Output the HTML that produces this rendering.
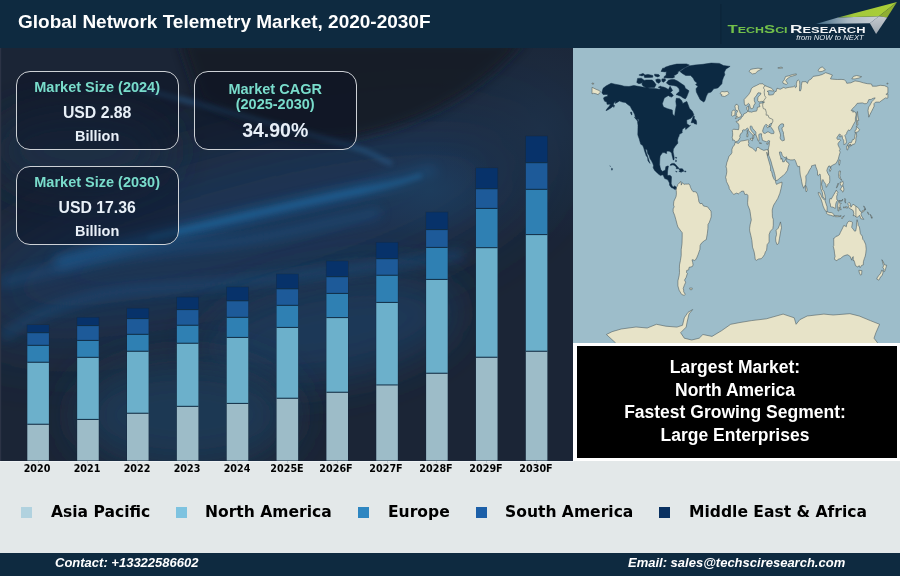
<!DOCTYPE html>
<html><head><meta charset="utf-8">
<style>
*{margin:0;padding:0;box-sizing:border-box}
html,body{width:900px;height:576px;overflow:hidden;background:#e3e8e9}
body{position:relative;font-family:"Liberation Sans",Arial,sans-serif}
.abs{position:absolute}
#title,.box div,#blk,#foot span,.lg,.xl,#hdr svg{will-change:transform}
#hdr{left:0;top:0;width:900px;height:48px;background:#0e2a40}
#title{left:18px;top:10.8px;color:#fff;font-weight:bold;font-size:19px;white-space:nowrap}
#left{left:0;top:48px;width:573px;height:413px;background:#1b2232;overflow:hidden}
#map{left:573px;top:48px;width:327px;height:295px;background:#9dbdca;overflow:hidden}
#frame{left:573px;top:343px;width:327px;height:118px;background:#fff}
#blk{left:577px;top:346px;width:320px;height:112px;background:#000;color:#fff;font-weight:bold;font-size:17.5px;text-align:center;line-height:22.7px;padding-top:10px;padding-right:4px;white-space:nowrap}
.box{position:absolute;border:1.8px solid #cdd1d6;border-radius:14px;background:rgba(10,18,35,0.45);text-align:center;font-weight:bold;white-space:nowrap}
.box div{position:absolute;left:0;right:0;text-align:center}
.t1{color:#79dccb;font-size:14.5px}
.t2{color:#e8eff7;font-size:15.8px}
#foot{left:0;top:553px;width:900px;height:23px;background:#0e2a40;color:#fff;font-weight:bold;font-style:italic;font-size:13px;white-space:nowrap}
.lg{position:absolute;top:502.5px;font-family:"DejaVu Sans",sans-serif;font-weight:bold;font-size:15.55px;color:#000;white-space:nowrap}
.sq{position:absolute;top:507px;width:11px;height:11px}
.xl{position:absolute;top:462.5px;font-family:"DejaVu Sans",sans-serif;font-weight:bold;font-size:9.6px;color:#000;width:50px;text-align:center}
</style></head><body>
<div id="hdr" class="abs"><svg width="900" height="48" style="position:absolute;left:0;top:0">
<defs>
<linearGradient id="gband" x1="816" y1="0" x2="880" y2="0" gradientUnits="userSpaceOnUse"><stop offset="0" stop-color="#3f6a85"/><stop offset="0.5" stop-color="#a9b8c2"/><stop offset="1" stop-color="#cdd1d6"/></linearGradient>
<linearGradient id="ggreen" x1="836" y1="0" x2="880" y2="0" gradientUnits="userSpaceOnUse"><stop offset="0" stop-color="#6f9a40"/><stop offset="0.4" stop-color="#a3c93b"/><stop offset="1" stop-color="#a8cd38"/></linearGradient>
<linearGradient id="gv" x1="0" y1="17" x2="0" y2="34" gradientUnits="userSpaceOnUse"><stop offset="0" stop-color="#c3c8ce"/><stop offset="1" stop-color="#9ea7b0"/></linearGradient>
</defs>
<rect x="720.5" y="4" width="0.8" height="40" fill="#0a2135"/>
<polygon points="816,24 838,17.4 878.9,16.3 869.9,23.3" fill="url(#gband)"/>
<polygon points="838,17.4 897,2.1 878.9,16.3" fill="url(#ggreen)"/>
<polygon points="878.9,16.3 897,2.1 887.2,17.4" fill="#8fae33"/>
<polygon points="869.9,23.3 878.9,16.3 887.2,17.4 876.1,34" fill="url(#gv)"/>
<text x="727.6" y="33" font-family="Liberation Sans, Arial, sans-serif" font-weight="bold" fill="#72c04a" textLength="60" lengthAdjust="spacingAndGlyphs"><tspan font-size="11.2">T</tspan><tspan font-size="8.4">ECH</tspan><tspan font-size="11.2">S</tspan><tspan font-size="8.4">CI</tspan></text>
<text x="790" y="33" font-family="Liberation Sans, Arial, sans-serif" font-weight="bold" fill="#f4f6f8" textLength="75.5" lengthAdjust="spacingAndGlyphs"><tspan font-size="11.2">R</tspan><tspan font-size="8.4">ESEARCH</tspan></text>
<text x="796.3" y="40.2" font-family="Liberation Sans, Arial, sans-serif" font-style="italic" font-size="7" fill="#e6ecf0" textLength="67.5" lengthAdjust="spacingAndGlyphs">from NOW to NEXT</text>
</svg>
</div>
<div id="title" class="abs">Global Network Telemetry Market, 2020-2030F</div>

<div id="left" class="abs">
<svg width="573" height="413" style="position:absolute;left:0;top:0">
<defs>
<filter id="b35" x="-50%" y="-50%" width="200%" height="200%"><feGaussianBlur stdDeviation="35"/></filter>
<filter id="b20" x="-50%" y="-50%" width="200%" height="200%"><feGaussianBlur stdDeviation="20"/></filter>
<filter id="b12" x="-50%" y="-50%" width="200%" height="200%"><feGaussianBlur stdDeviation="12"/></filter>
<filter id="b6" x="-50%" y="-50%" width="200%" height="200%"><feGaussianBlur stdDeviation="6"/></filter>
<filter id="b3" x="-50%" y="-50%" width="200%" height="200%"><feGaussianBlur stdDeviation="2.5"/></filter>
<radialGradient id="rg2"><stop offset="0" stop-color="#1d3c5c"/><stop offset="1" stop-color="#1d3c5c" stop-opacity="0"/></radialGradient>
<radialGradient id="rg1"><stop offset="0" stop-color="#1d3048"/><stop offset="1" stop-color="#1d3048" stop-opacity="0"/></radialGradient>
</defs>
<rect width="573" height="413" fill="#1b2536"/>
<g transform="translate(0,-48)">
<ellipse cx="250" cy="230" rx="300" ry="80" fill="#1b3555" transform="rotate(-15 250 230)" filter="url(#b35)"/>
<ellipse cx="330" cy="330" rx="130" ry="50" fill="#1c3757" transform="rotate(-10 330 330)" filter="url(#b20)"/>
<ellipse cx="80" cy="150" rx="90" ry="40" fill="#1b2d45" filter="url(#b20)"/>
<ellipse cx="185" cy="415" rx="110" ry="55" fill="#1a3753" filter="url(#b20)"/>
<ellipse cx="540" cy="130" rx="110" ry="110" fill="url(#rg1)"/>
<path d="M180,40 L525,40 C490,80 440,120 354,138 C300,146 250,128 200,100 Z" fill="#191b28" opacity="0.9" filter="url(#b6)"/>
<path d="M60,262 C150,238 250,215 350,193 S410,178 430,173" stroke="#1b5f96" stroke-width="12" stroke-linecap="round" fill="none" opacity="0.75" filter="url(#b6)"/>
<ellipse cx="430" cy="190" rx="70" ry="45" fill="url(#rg2)"/>
<path d="M150,238 C220,222 280,207 350,193 S400,181 420,176" stroke="#2470a8" stroke-width="4" stroke-linecap="round" fill="none" opacity="0.5" filter="url(#b3)"/>
<path d="M0,283 C60,268 120,252 200,245 S300,228 380,212" stroke="#1a5588" stroke-width="9" fill="none" opacity="0.55" filter="url(#b6)"/>
<path d="M130,86 C200,104 280,126 330,140 S370,155 390,163" stroke="#2b6494" stroke-width="5" stroke-linecap="round" fill="none" opacity="0.5" filter="url(#b3)"/>
<path d="M5,335 C40,310 90,292 150,289 S300,277 460,255" stroke="#1d5283" stroke-width="8" stroke-linecap="round" fill="none" opacity="0.6" filter="url(#b6)"/>
</g>
<rect x="0" y="0" width="1.2" height="413" fill="#2c3345"/>
</svg>
<svg width="573" height="413" style="position:absolute;left:0;top:0"><rect x="26.80" y="276.50" width="22.6" height="136.00" fill="#10263c" opacity="0.6"/><rect x="27.30" y="277.00" width="21.6" height="7.70" fill="#07326a"/><rect x="27.30" y="284.70" width="21.6" height="12.70" fill="#1d5a99"/><rect x="27.30" y="297.40" width="21.6" height="16.90" fill="#2f80b3"/><rect x="27.30" y="314.30" width="21.6" height="62.00" fill="#6cb0cb"/><rect x="27.30" y="376.30" width="21.6" height="36.20" fill="#9dbcc8"/><rect x="27.30" y="284.10" width="21.6" height="1.1" fill="#0f2c45" opacity="0.9"/><rect x="27.30" y="296.80" width="21.6" height="1.1" fill="#0f2c45" opacity="0.9"/><rect x="27.30" y="313.70" width="21.6" height="1.1" fill="#0f2c45" opacity="0.9"/><rect x="27.30" y="375.70" width="21.6" height="1.1" fill="#0f2c45" opacity="0.9"/><rect x="76.65" y="269.00" width="22.6" height="143.50" fill="#10263c" opacity="0.6"/><rect x="77.15" y="269.50" width="21.6" height="8.10" fill="#07326a"/><rect x="77.15" y="277.60" width="21.6" height="14.90" fill="#1d5a99"/><rect x="77.15" y="292.50" width="21.6" height="16.90" fill="#2f80b3"/><rect x="77.15" y="309.40" width="21.6" height="62.10" fill="#6cb0cb"/><rect x="77.15" y="371.50" width="21.6" height="41.00" fill="#9dbcc8"/><rect x="77.15" y="277.00" width="21.6" height="1.1" fill="#0f2c45" opacity="0.9"/><rect x="77.15" y="291.90" width="21.6" height="1.1" fill="#0f2c45" opacity="0.9"/><rect x="77.15" y="308.80" width="21.6" height="1.1" fill="#0f2c45" opacity="0.9"/><rect x="77.15" y="370.90" width="21.6" height="1.1" fill="#0f2c45" opacity="0.9"/><rect x="126.50" y="259.90" width="22.6" height="152.60" fill="#10263c" opacity="0.6"/><rect x="127.00" y="260.40" width="21.6" height="10.20" fill="#07326a"/><rect x="127.00" y="270.60" width="21.6" height="15.80" fill="#1d5a99"/><rect x="127.00" y="286.40" width="21.6" height="16.90" fill="#2f80b3"/><rect x="127.00" y="303.30" width="21.6" height="62.00" fill="#6cb0cb"/><rect x="127.00" y="365.30" width="21.6" height="47.20" fill="#9dbcc8"/><rect x="127.00" y="270.00" width="21.6" height="1.1" fill="#0f2c45" opacity="0.9"/><rect x="127.00" y="285.80" width="21.6" height="1.1" fill="#0f2c45" opacity="0.9"/><rect x="127.00" y="302.70" width="21.6" height="1.1" fill="#0f2c45" opacity="0.9"/><rect x="127.00" y="364.70" width="21.6" height="1.1" fill="#0f2c45" opacity="0.9"/><rect x="176.35" y="248.80" width="22.6" height="163.70" fill="#10263c" opacity="0.6"/><rect x="176.85" y="249.30" width="21.6" height="12.30" fill="#07326a"/><rect x="176.85" y="261.60" width="21.6" height="15.70" fill="#1d5a99"/><rect x="176.85" y="277.30" width="21.6" height="18.00" fill="#2f80b3"/><rect x="176.85" y="295.30" width="21.6" height="63.10" fill="#6cb0cb"/><rect x="176.85" y="358.40" width="21.6" height="54.10" fill="#9dbcc8"/><rect x="176.85" y="261.00" width="21.6" height="1.1" fill="#0f2c45" opacity="0.9"/><rect x="176.85" y="276.70" width="21.6" height="1.1" fill="#0f2c45" opacity="0.9"/><rect x="176.85" y="294.70" width="21.6" height="1.1" fill="#0f2c45" opacity="0.9"/><rect x="176.85" y="357.80" width="21.6" height="1.1" fill="#0f2c45" opacity="0.9"/><rect x="226.20" y="238.70" width="22.6" height="173.80" fill="#10263c" opacity="0.6"/><rect x="226.70" y="239.20" width="21.6" height="13.60" fill="#07326a"/><rect x="226.70" y="252.80" width="21.6" height="16.60" fill="#1d5a99"/><rect x="226.70" y="269.40" width="21.6" height="20.10" fill="#2f80b3"/><rect x="226.70" y="289.50" width="21.6" height="66.00" fill="#6cb0cb"/><rect x="226.70" y="355.50" width="21.6" height="57.00" fill="#9dbcc8"/><rect x="226.70" y="252.20" width="21.6" height="1.1" fill="#0f2c45" opacity="0.9"/><rect x="226.70" y="268.80" width="21.6" height="1.1" fill="#0f2c45" opacity="0.9"/><rect x="226.70" y="288.90" width="21.6" height="1.1" fill="#0f2c45" opacity="0.9"/><rect x="226.70" y="354.90" width="21.6" height="1.1" fill="#0f2c45" opacity="0.9"/><rect x="276.05" y="225.70" width="22.6" height="186.80" fill="#10263c" opacity="0.6"/><rect x="276.55" y="226.20" width="21.6" height="14.60" fill="#07326a"/><rect x="276.55" y="240.80" width="21.6" height="16.60" fill="#1d5a99"/><rect x="276.55" y="257.40" width="21.6" height="22.10" fill="#2f80b3"/><rect x="276.55" y="279.50" width="21.6" height="70.80" fill="#6cb0cb"/><rect x="276.55" y="350.30" width="21.6" height="62.20" fill="#9dbcc8"/><rect x="276.55" y="240.20" width="21.6" height="1.1" fill="#0f2c45" opacity="0.9"/><rect x="276.55" y="256.80" width="21.6" height="1.1" fill="#0f2c45" opacity="0.9"/><rect x="276.55" y="278.90" width="21.6" height="1.1" fill="#0f2c45" opacity="0.9"/><rect x="276.55" y="349.70" width="21.6" height="1.1" fill="#0f2c45" opacity="0.9"/><rect x="325.90" y="212.70" width="22.6" height="199.80" fill="#10263c" opacity="0.6"/><rect x="326.40" y="213.20" width="21.6" height="15.50" fill="#07326a"/><rect x="326.40" y="228.70" width="21.6" height="16.80" fill="#1d5a99"/><rect x="326.40" y="245.50" width="21.6" height="24.10" fill="#2f80b3"/><rect x="326.40" y="269.60" width="21.6" height="74.70" fill="#6cb0cb"/><rect x="326.40" y="344.30" width="21.6" height="68.20" fill="#9dbcc8"/><rect x="326.40" y="228.10" width="21.6" height="1.1" fill="#0f2c45" opacity="0.9"/><rect x="326.40" y="244.90" width="21.6" height="1.1" fill="#0f2c45" opacity="0.9"/><rect x="326.40" y="269.00" width="21.6" height="1.1" fill="#0f2c45" opacity="0.9"/><rect x="326.40" y="343.70" width="21.6" height="1.1" fill="#0f2c45" opacity="0.9"/><rect x="375.75" y="194.00" width="22.6" height="218.50" fill="#10263c" opacity="0.6"/><rect x="376.25" y="194.50" width="21.6" height="16.20" fill="#07326a"/><rect x="376.25" y="210.70" width="21.6" height="16.60" fill="#1d5a99"/><rect x="376.25" y="227.30" width="21.6" height="27.20" fill="#2f80b3"/><rect x="376.25" y="254.50" width="21.6" height="82.50" fill="#6cb0cb"/><rect x="376.25" y="337.00" width="21.6" height="75.50" fill="#9dbcc8"/><rect x="376.25" y="210.10" width="21.6" height="1.1" fill="#0f2c45" opacity="0.9"/><rect x="376.25" y="226.70" width="21.6" height="1.1" fill="#0f2c45" opacity="0.9"/><rect x="376.25" y="253.90" width="21.6" height="1.1" fill="#0f2c45" opacity="0.9"/><rect x="376.25" y="336.40" width="21.6" height="1.1" fill="#0f2c45" opacity="0.9"/><rect x="425.60" y="163.80" width="22.6" height="248.70" fill="#10263c" opacity="0.6"/><rect x="426.10" y="164.30" width="21.6" height="17.30" fill="#07326a"/><rect x="426.10" y="181.60" width="21.6" height="17.90" fill="#1d5a99"/><rect x="426.10" y="199.50" width="21.6" height="32.00" fill="#2f80b3"/><rect x="426.10" y="231.50" width="21.6" height="93.80" fill="#6cb0cb"/><rect x="426.10" y="325.30" width="21.6" height="87.20" fill="#9dbcc8"/><rect x="426.10" y="181.00" width="21.6" height="1.1" fill="#0f2c45" opacity="0.9"/><rect x="426.10" y="198.90" width="21.6" height="1.1" fill="#0f2c45" opacity="0.9"/><rect x="426.10" y="230.90" width="21.6" height="1.1" fill="#0f2c45" opacity="0.9"/><rect x="426.10" y="324.70" width="21.6" height="1.1" fill="#0f2c45" opacity="0.9"/><rect x="475.45" y="119.60" width="22.6" height="292.90" fill="#10263c" opacity="0.6"/><rect x="475.95" y="120.10" width="21.6" height="20.65" fill="#07326a"/><rect x="475.95" y="140.75" width="21.6" height="19.75" fill="#1d5a99"/><rect x="475.95" y="160.50" width="21.6" height="39.20" fill="#2f80b3"/><rect x="475.95" y="199.70" width="21.6" height="109.60" fill="#6cb0cb"/><rect x="475.95" y="309.30" width="21.6" height="103.20" fill="#9dbcc8"/><rect x="475.95" y="140.15" width="21.6" height="1.1" fill="#0f2c45" opacity="0.9"/><rect x="475.95" y="159.90" width="21.6" height="1.1" fill="#0f2c45" opacity="0.9"/><rect x="475.95" y="199.10" width="21.6" height="1.1" fill="#0f2c45" opacity="0.9"/><rect x="475.95" y="308.70" width="21.6" height="1.1" fill="#0f2c45" opacity="0.9"/><rect x="525.30" y="87.75" width="22.6" height="324.75" fill="#10263c" opacity="0.6"/><rect x="525.80" y="88.25" width="21.6" height="26.45" fill="#07326a"/><rect x="525.80" y="114.70" width="21.6" height="26.70" fill="#1d5a99"/><rect x="525.80" y="141.40" width="21.6" height="45.20" fill="#2f80b3"/><rect x="525.80" y="186.60" width="21.6" height="116.70" fill="#6cb0cb"/><rect x="525.80" y="303.30" width="21.6" height="109.20" fill="#9dbcc8"/><rect x="525.80" y="114.10" width="21.6" height="1.1" fill="#0f2c45" opacity="0.9"/><rect x="525.80" y="140.80" width="21.6" height="1.1" fill="#0f2c45" opacity="0.9"/><rect x="525.80" y="186.00" width="21.6" height="1.1" fill="#0f2c45" opacity="0.9"/><rect x="525.80" y="302.70" width="21.6" height="1.1" fill="#0f2c45" opacity="0.9"/></svg>
</div>

<div class="box" style="left:16.4px;top:70.9px;width:162.3px;height:79.6px">
<div class="t1" style="top:7.1px">Market Size (2024)</div>
<div class="t2" style="top:31.8px">USD 2.88</div>
<div class="t2" style="top:56px;font-size:14.5px">Billion</div>
</div>
<div class="box" style="left:194.2px;top:71.3px;width:162.4px;height:79.1px">
<div class="t1" style="top:8.5px">Market CAGR</div>
<div class="t1" style="top:23.8px">(2025-2030)</div>
<div class="t2" style="top:46.6px;font-size:19.5px">34.90%</div>
</div>
<div class="box" style="left:16.4px;top:165.9px;width:162.3px;height:79.6px">
<div class="t1" style="top:7.1px">Market Size (2030)</div>
<div class="t2" style="top:31.8px">USD 17.36</div>
<div class="t2" style="top:56px;font-size:14.5px">Billion</div>
</div>

<div id="map" class="abs"><svg width="327" height="295" viewBox="0 0 327 295" style="position:absolute;left:0;top:0">
<path d="M103.3,139.4L104.5,137.9L104.9,136.3L106.0,135.1L107.0,134.6L107.8,133.3L108.2,135.4L108.2,137.1L109.4,134.6L110.9,136.3L112.7,136.1L114.4,136.1L116.0,135.9L116.8,137.1L117.6,139.6L118.9,142.1L120.1,143.7L121.8,143.7L123.4,144.2L124.6,146.6L125.4,150.4L125.9,153.7L127.1,155.7L129.1,155.4L130.4,157.9L132.4,158.4L134.5,158.8L135.7,160.4L137.0,162.1L138.0,163.0L138.2,165.5L138.2,168.9L137.4,171.4L136.1,174.8L135.0,176.4L134.9,180.7L134.3,185.7L133.7,189.1L133.3,191.6L131.6,192.5L130.0,193.8L128.3,195.3L127.1,197.5L126.9,201.4L125.9,204.2L125.0,206.8L123.8,209.6L122.6,211.8L121.3,212.5L120.1,211.8L119.0,211.8L119.7,214.4L120.1,216.9L119.3,218.6L116.0,219.4L115.7,221.9L113.7,222.4L113.5,224.5L114.4,225.3L113.1,229.5L111.5,232.1L112.7,234.2L111.1,237.9L110.2,240.5L110.7,242.0L110.7,243.8L112.3,246.4L111.1,247.4L108.6,246.4L106.1,242.2L104.9,237.9L104.9,232.9L106.1,227.8L106.5,224.5L106.4,220.3L106.5,216.9L107.4,212.7L108.2,207.6L108.2,201.7L109.0,195.8L109.2,189.1L109.2,184.7L107.8,182.9L104.9,179.0L104.1,176.4L102.8,171.4L101.6,167.2L100.2,163.8L100.1,160.9L101.2,158.8L100.5,157.1L100.8,153.7L101.4,152.0L102.0,150.9L103.0,148.7L103.4,146.2L103.3,142.9L102.9,141.7ZM116.6,240.0L119.3,240.1L118.9,241.7L117.2,241.7ZM162.1,94.3L165.3,95.4L167.8,93.1L171.1,92.6L175.0,91.8L176.0,92.3L175.3,93.9L176.0,95.3L175.3,96.9L176.2,98.6L179.3,100.1L183.0,103.4L183.5,101.4L183.5,100.1L185.0,99.1L187.5,100.9L190.8,102.4L193.5,101.7L195.1,101.7L195.6,104.7L195.2,107.2L194.6,107.6L193.8,104.1L194.5,108.5L196.1,113.9L197.5,118.8L197.7,123.0L198.7,123.8L199.6,128.0L201.1,131.3L202.6,132.9L202.7,134.6L203.5,136.4L205.6,135.3L209.0,134.1L208.9,136.4L208.1,140.4L206.8,145.4L204.8,150.4L202.3,154.5L200.7,157.1L199.8,159.6L199.2,162.1L199.3,165.5L199.4,168.9L200.3,171.4L200.3,177.3L199.8,180.7L197.4,183.2L196.1,186.6L196.1,190.8L196.1,194.1L194.1,196.7L193.9,199.2L193.6,202.2L192.4,203.9L191.6,206.4L190.0,208.8L188.3,210.7L185.5,211.0L183.4,212.3L182.2,211.5L181.9,208.5L181.2,204.2L180.5,201.9L179.5,199.2L178.9,192.5L178.7,191.6L177.8,187.4L176.7,182.9L176.6,180.3L177.2,176.4L178.3,171.9L177.8,168.9L177.1,163.8L176.8,162.1L176.0,160.1L174.8,157.1L174.6,154.5L174.8,152.0L175.0,148.7L174.8,147.1L173.9,146.2L172.7,146.4L171.9,146.6L171.1,144.6L170.7,143.2L169.0,143.2L167.8,143.7L166.1,145.4L165.3,145.9L163.7,145.1L160.8,146.4L159.6,145.4L157.5,142.4L156.3,140.8L156.0,138.8L154.6,135.8L153.4,133.4L153.2,131.3L152.6,129.3L153.4,126.6L153.8,123.8L153.6,120.5L153.0,118.8L153.8,114.7L155.0,111.4L156.0,108.0L157.5,106.9L158.9,104.7L158.9,101.4L160.0,98.4L161.4,97.3ZM207.5,173.9L208.5,179.8L207.9,182.3L206.4,190.8L205.6,195.5L204.0,196.7L202.8,193.3L202.6,189.9L203.5,186.6L203.1,182.3L205.2,180.2L206.4,177.3ZM162.4,93.9L165.3,92.8L167.1,89.5L166.7,88.1L167.7,85.6L169.6,84.1L169.5,82.3L170.7,81.7L172.3,82.2L173.1,81.0L174.2,80.0L175.3,80.8L175.6,82.5L176.8,84.0L178.1,85.3L179.8,87.1L179.9,90.1L179.8,90.6L180.2,90.6L181.0,89.0L180.5,88.0L180.9,86.5L182.2,87.1L180.3,85.1L178.5,83.0L177.2,80.3L177.1,78.5L178.2,77.8L178.9,78.5L179.5,80.2L181.3,82.3L182.9,84.1L182.9,86.8L184.2,90.1L184.8,92.6L185.9,93.3L186.0,90.3L185.8,86.5L187.0,85.8L188.6,85.8L188.5,88.3L189.0,89.8L189.4,92.3L190.2,92.6L192.0,93.3L193.7,93.8L195.4,92.6L196.7,92.9L196.4,94.8L196.2,97.3L195.7,99.3L195.3,101.4L195.1,101.7L195.6,104.7L195.7,107.2L197.0,110.5L198.2,113.9L199.2,118.0L200.3,121.3L201.5,125.5L202.1,128.0L202.6,131.3L202.7,132.6L204.0,132.5L206.4,130.5L208.9,128.5L209.9,127.8L212.2,125.5L213.4,123.8L214.5,122.2L215.0,119.7L216.1,116.3L215.2,114.5L213.8,114.0L213.2,112.4L213.3,110.2L212.6,111.4L211.3,113.7L209.7,113.9L209.4,111.7L209.0,110.4L208.2,110.5L208.1,111.5L207.6,108.9L206.8,106.7L206.4,104.1L206.8,103.9L207.6,103.9L208.3,104.1L209.3,107.4L210.9,109.2L212.6,109.7L213.3,108.7L214.1,110.9L215.9,111.5L217.6,111.9L220.0,111.9L221.6,111.5L222.3,112.5L223.1,114.5L223.7,116.5L224.9,118.8L226.6,118.3L226.8,122.2L227.3,127.1L228.2,130.5L228.6,133.3L229.4,137.1L230.7,140.3L231.3,138.8L232.6,136.6L233.0,132.0L232.8,128.0L234.0,126.5L234.8,125.5L236.7,121.7L238.4,119.3L238.6,117.8L239.7,117.5L240.9,117.2L242.4,116.7L242.8,118.8L243.8,121.3L244.5,123.5L244.5,127.1L245.4,127.6L246.7,126.0L247.2,126.3L247.5,129.6L248.0,133.8L247.9,137.1L247.8,140.4L248.7,142.9L249.4,144.7L250.0,148.7L252.0,151.5L252.6,151.4L252.0,147.1L251.0,143.4L249.6,141.6L249.1,138.3L248.5,136.6L249.2,132.6L249.9,131.5L250.8,133.4L251.5,134.4L252.8,136.4L253.3,139.4L254.7,137.4L254.7,136.4L256.5,134.9L256.8,132.3L256.6,128.3L254.9,125.5L253.8,122.7L254.5,120.2L255.7,118.0L257.1,118.0L257.6,120.0L258.2,118.0L260.3,116.8L262.7,115.7L264.4,113.0L265.3,111.0L265.9,108.5L267.2,104.1L266.4,102.6L267.2,101.1L266.3,99.6L265.0,96.8L265.0,95.6L266.2,93.8L267.7,92.3L266.4,91.0L264.7,91.6L263.7,90.0L264.4,88.8L266.4,86.0L267.5,86.6L266.6,89.0L267.0,89.1L269.1,87.5L269.5,90.5L270.7,92.3L270.9,95.6L270.8,96.6L271.8,96.3L273.2,95.3L273.4,93.4L272.6,89.6L271.8,87.6L273.6,85.8L273.7,84.8L274.4,83.5L275.6,81.8L276.7,82.7L278.3,80.8L280.6,76.2L282.4,73.2L282.4,69.9L283.1,66.9L282.9,65.2L281.9,63.7L279.6,64.1L280.3,62.7L278.1,62.7L279.4,60.7L282.5,57.8L284.1,55.4L286.6,55.1L289.4,54.9L291.9,55.8L293.7,55.4L294.4,54.9L295.8,51.6L298.4,51.4L298.7,50.9L301.4,49.9L302.2,49.9L300.9,51.6L298.9,53.6L296.8,57.4L295.6,59.1L295.0,62.4L295.8,69.2L297.2,66.1L298.5,63.6L300.1,60.4L301.2,58.1L300.9,55.8L302.6,54.1L306.7,54.1L308.8,52.4L312.5,49.9L314.2,50.3L314.9,49.9L314.9,45.8L313.3,46.6L312.9,46.3L314.9,45.0L314.9,39.3L311.6,37.7L307.1,37.3L303.4,38.2L299.3,38.2L298.5,36.0L294.4,35.7L290.3,34.8L286.1,33.5L282.0,32.9L277.9,34.8L273.8,35.3L273.0,33.5L271.4,31.7L268.1,31.4L264.4,31.5L259.8,31.2L257.4,30.9L259.4,27.0L254.9,25.4L252.6,24.7L249.2,26.5L245.9,27.5L240.1,28.4L238.3,30.9L235.6,32.5L234.4,35.5L233.1,33.7L231.1,33.7L229.0,33.8L228.4,37.5L228.2,40.8L227.4,43.0L226.5,42.8L226.6,40.0L226.8,36.7L226.6,33.2L225.3,32.0L224.1,32.7L223.3,35.8L223.5,38.8L222.4,39.8L221.6,37.8L220.4,38.8L216.7,39.3L215.0,39.5L212.2,40.3L210.9,39.3L207.2,41.3L204.0,40.2L203.1,43.5L201.9,43.5L200.3,46.6L197.8,47.0L195.7,47.0L195.6,44.3L194.1,43.3L196.6,42.6L200.7,43.1L200.8,42.8L198.6,40.3L194.1,38.5L191.6,37.5L190.0,35.8L186.7,35.8L183.4,37.5L180.5,38.8L178.5,40.3L177.2,44.1L175.6,46.6L172.7,49.8L171.1,51.6L171.3,55.3L171.9,57.3L173.1,57.4L175.6,55.4L176.2,55.9L176.8,57.6L177.4,60.2L178.9,60.7L180.4,59.7L180.7,57.6L182.3,55.1L181.3,52.9L181.3,49.9L183.0,48.3L185.0,44.8L187.9,45.0L187.5,46.6L185.0,49.1L184.6,52.4L185.9,54.1L188.7,53.4L191.6,54.1L190.0,54.9L186.7,55.3L186.3,56.6L187.0,58.6L184.3,59.4L184.2,61.6L183.4,63.2L182.2,63.2L180.1,63.6L178.5,64.2L176.8,63.7L176.0,64.1L175.2,62.9L174.0,61.6L173.7,59.4L175.6,57.9L175.4,60.2L175.9,60.1L175.2,62.4L174.1,64.2L172.7,65.1L170.8,65.9L170.2,67.5L169.6,68.5L168.3,69.2L168.2,70.4L167.0,71.4L165.9,71.2L165.4,72.9L163.1,73.4L163.5,74.4L165.1,75.3L166.0,77.0L165.9,79.8L165.5,81.7L163.7,81.5L160.4,81.2L159.3,82.3L159.6,84.6L159.7,87.0L159.2,89.5L159.6,90.7L159.6,92.3L160.9,91.9L161.7,92.6ZM19.0,39.3L23.1,41.3L26.4,42.6L27.5,44.1L26.4,45.0L25.2,46.8L23.1,45.8L20.6,45.3L19.0,45.8ZM19.0,35.0L21.1,35.5L20.2,36.2L19.0,36.0ZM313.8,35.5L314.9,35.0L314.9,36.0L313.9,36.0ZM162.3,70.7L164.5,69.7L168.1,68.7L168.4,66.2L167.2,65.1L166.8,63.7L165.6,61.4L165.3,59.1L165.5,58.1L164.2,56.4L162.9,56.4L161.9,58.2L162.4,60.7L163.0,62.4L164.5,62.7L164.3,64.2L163.2,65.2L163.5,66.9L162.6,67.9L164.5,68.4L163.5,68.7ZM162.0,67.0L161.9,64.9L162.3,62.9L161.0,61.9L160.0,62.4L158.7,63.7L158.9,65.1L158.5,67.5L159.2,68.2L160.4,67.7ZM147.2,45.0L148.9,43.5L151.8,43.8L154.6,43.3L155.9,45.5L154.6,47.0L151.6,48.5L148.3,47.8L148.9,46.6L147.2,45.8ZM176.0,23.4L177.6,21.4L180.9,20.7L185.0,20.2L189.2,20.7L184.2,23.4L182.6,25.4L179.3,25.9ZM210.1,35.3L213.4,36.5L214.6,35.3L212.7,32.7L214.1,30.9L217.1,28.7L223.3,26.9L223.3,25.9L219.6,26.5L215.5,27.9L212.6,28.5L211.3,31.7L209.7,33.8ZM204.8,19.9L208.1,19.1L209.7,19.9L206.4,20.4ZM245.0,22.6L246.7,20.1L249.2,18.9L252.4,21.7L249.2,23.4L246.7,23.7ZM278.8,30.9L280.4,28.4L283.7,27.5L288.6,28.7L286.1,30.0L282.0,30.9ZM283.7,77.3L284.9,77.0L284.5,72.4L285.8,72.4L284.8,67.7L284.5,63.6L284.2,63.6L283.8,65.7L283.8,69.0L283.5,73.2L283.6,76.5ZM282.0,84.8L283.0,84.3L284.7,84.0L286.6,81.8L285.7,80.7L283.4,78.2L283.3,81.5L282.3,82.0L282.0,83.5ZM283.3,85.0L283.7,88.1L282.9,90.1L282.9,92.3L282.5,94.3L281.9,95.6L281.1,96.3L279.7,96.3L279.4,96.8L278.3,98.1L277.9,96.3L275.9,96.9L274.6,97.3L274.9,96.4L276.0,94.8L278.4,94.6L279.3,92.4L279.8,91.4L280.8,91.6L281.6,90.1L282.0,87.5L282.3,85.3ZM273.8,97.8L274.6,97.4L275.4,98.9L274.9,101.7L274.0,102.1L273.6,99.3ZM275.9,98.4L277.1,96.8L277.7,97.6L276.3,99.3ZM266.4,111.9L267.2,112.2L266.8,115.5L266.3,117.3L265.7,115.5L265.8,113.5ZM256.3,121.8L257.8,120.3L258.2,121.2L257.0,123.5ZM232.6,137.4L233.7,139.6L234.2,142.1L233.3,143.9L232.6,142.4ZM266.1,123.0L267.5,123.0L267.2,125.5L266.8,127.5L267.7,130.5L268.9,132.1L268.3,132.3L267.1,130.6L266.1,130.0L265.6,127.1ZM267.2,141.6L268.5,139.4L270.1,137.6L270.9,141.2L270.5,143.4L269.7,144.2L268.9,142.4ZM267.2,133.9L268.2,134.6L269.7,132.9L270.3,135.4L269.7,137.1L268.5,137.9L267.7,137.4L267.2,135.9ZM263.3,139.8L265.2,135.1L265.4,136.1L264.0,139.6ZM256.6,150.9L257.1,150.4L258.2,151.2L259.8,148.4L261.1,146.1L262.3,143.9L263.3,142.1L264.9,144.7L264.0,145.6L264.4,146.6L263.7,148.1L263.8,151.7L264.8,152.2L263.5,153.7L262.7,156.2L262.7,159.3L262.3,160.4L261.1,159.8L259.8,159.1L258.8,159.1L257.5,158.6L257.4,156.2L256.6,154.2L256.6,152.0ZM245.3,144.4L247.1,145.1L248.2,147.6L249.3,150.0L250.4,150.9L252.0,152.5L252.9,155.4L254.1,158.8L254.1,163.5L252.9,163.6L251.1,160.4L250.0,157.9L249.4,155.4L248.3,152.0L247.4,149.9L246.1,147.4L245.2,145.1ZM253.4,165.2L254.2,163.6L256.1,164.5L258.2,164.5L259.6,165.3L261.1,166.7L261.1,168.4L259.0,167.7L257.4,167.2L255.7,166.8L254.4,166.2ZM264.6,157.9L265.0,163.0L265.9,163.0L266.0,158.8L267.2,161.6L268.2,161.8L267.2,158.8L266.8,156.9L268.4,155.2L266.4,155.2L266.1,152.9L268.3,153.2L269.7,151.2L269.3,152.9L265.6,152.5L265.2,154.5ZM274.6,155.9L275.9,154.4L277.1,155.2L277.9,159.3L280.0,156.2L282.9,158.1L285.7,160.3L287.0,163.0L288.5,164.1L288.0,166.3L289.0,168.9L290.8,171.4L289.8,171.1L287.8,170.7L286.6,167.2L284.9,168.9L284.1,169.4L282.9,169.0L281.2,167.3L280.2,167.9L280.8,165.5L280.2,162.6L277.9,161.1L276.3,160.4L275.5,158.6L276.3,157.6L275.5,157.1ZM268.9,169.4L271.4,167.7L270.1,169.4L268.9,170.9ZM261.5,167.5L264.8,167.7L266.4,168.0L268.1,167.5L267.9,168.5L264.8,168.7L262.3,168.7ZM289.0,163.0L291.1,162.1L292.1,160.8L291.5,163.0L289.4,164.3ZM271.8,150.4L272.6,151.2L272.2,153.2L272.8,155.0L272.0,154.5L271.8,152.4ZM272.2,158.8L274.2,158.8L274.5,160.1L272.6,159.8ZM270.5,158.9L271.5,159.1L271.2,160.1L270.5,159.8ZM290.7,157.9L291.9,159.6L292.7,161.8L292.3,161.5L291.1,159.1ZM294.4,163.8L295.2,164.7L296.0,166.3L295.6,166.5L294.8,165.2ZM297.2,166.3L298.5,168.0L299.3,169.7L298.9,169.9L297.7,168.0ZM298.3,169.4L299.1,170.2L298.9,170.5L298.2,169.9ZM260.7,190.4L260.8,197.5L260.3,198.4L261.2,202.1L261.5,205.1L262.1,208.5L261.5,210.1L261.6,211.5L263.9,212.8L265.4,211.0L267.2,210.8L268.9,209.3L270.5,208.1L273.0,207.1L274.8,206.8L277.3,208.6L278.7,212.2L279.2,210.1L280.2,208.6L280.2,212.7L280.9,212.3L281.6,214.2L282.5,217.7L284.9,219.1L286.1,217.6L287.2,219.6L288.6,217.4L290.3,216.9L290.4,213.7L291.3,210.7L292.3,208.0L292.8,205.1L293.2,201.2L292.8,197.5L292.6,196.2L290.9,192.5L289.8,191.3L289.3,188.2L287.4,185.7L286.9,182.2L286.4,178.8L285.2,177.6L284.9,174.8L284.1,171.7L283.5,174.8L283.4,179.3L282.7,183.0L281.6,183.2L280.2,181.2L278.7,179.3L279.5,174.4L278.8,173.8L276.0,173.1L274.7,174.3L273.7,176.4L273.3,178.8L272.0,177.8L270.7,177.6L269.7,179.8L268.5,182.3L267.4,184.4L266.4,186.7L264.6,187.9L262.9,188.4L261.2,190.4ZM285.8,222.3L288.9,222.6L288.6,226.5L287.6,227.2L286.4,225.0ZM308.9,211.7L310.4,214.0L311.5,216.9L313.7,217.2L312.9,219.9L311.6,223.6L310.5,223.3L311.1,221.1L309.8,219.9L310.5,217.7L309.4,213.5ZM308.9,221.9L310.2,224.0L309.2,227.5L307.7,228.7L305.9,232.2L303.8,231.2L304.1,229.9L305.5,227.8L307.4,225.6L308.3,223.5ZM177.2,90.5L179.8,90.1L179.4,92.8L177.2,91.3ZM173.9,85.6L175.0,85.6L174.9,88.6L173.9,89.0ZM174.0,82.5L174.7,82.3L174.8,85.0L174.2,84.6ZM186.3,94.6L188.6,95.1L188.3,95.6L186.4,95.3ZM193.5,95.6L195.4,94.6L194.9,96.3L193.7,96.1ZM42.7,302.0L42.7,295.0L33.4,286.5L39.0,283.7L48.2,281.0L63.0,279.0L74.2,280.0L83.5,276.3L92.8,278.2L103.9,279.1L109.5,277.3L111.3,269.8L115.0,264.3L119.7,261.5L116.0,266.0L114.0,274.5L113.2,279.1L107.6,284.7L111.3,290.2L118.7,292.0L126.2,290.2L129.9,286.5L139.0,288.4L148.4,282.8L157.7,276.3L167.0,274.5L178.6,272.6L193.4,270.8L210.1,266.1L221.2,269.8L223.1,276.3L226.8,271.7L234.2,268.0L250.9,266.1L260.2,267.0L276.9,265.7L286.2,268.0L297.3,272.6L306.6,276.3L302.9,284.7L301.0,290.2L304.7,295.0L304.7,302.0Z" fill="#e7e3c8" stroke="#46555a" stroke-width="0.55" stroke-linejoin="round"/>
<path d="M189.6,83.1L190.0,81.5L190.6,79.8L191.6,77.7L192.9,76.3L194.5,77.3L193.7,78.5L194.5,79.8L195.7,79.0L197.0,78.5L197.8,79.3L199.0,80.3L201.1,84.0L200.7,85.6L198.2,85.6L195.7,84.0L194.1,84.0L192.4,85.3L190.8,85.3L190.0,84.0ZM195.7,78.5L196.1,77.0L197.4,75.7L199.0,75.3L198.2,76.8L197.8,78.3L197.0,78.5ZM205.4,79.3L206.0,78.0L207.2,76.5L208.9,75.7L210.5,76.0L210.7,78.5L208.9,79.8L209.3,82.3L210.4,84.3L210.5,86.5L211.3,90.6L211.3,92.3L209.3,92.8L207.6,91.4L207.1,89.8L207.6,87.0L206.8,84.3L206.0,82.3Z" fill="#9dbdca" stroke="#46555a" stroke-width="0.55" stroke-linejoin="round"/>
<path d="M282.9,158.1L282.9,164.7L282.9,169.0M192.3,37.8L191.0,38.5L190.4,40.0L191.6,41.6L191.2,44.1L191.6,47.5L192.9,49.5L191.2,52.1L190.0,53.3L190.0,55.1L189.6,57.4L190.0,59.4L190.4,60.7L192.4,61.2L193.3,64.4L193.1,67.2L194.9,67.0L196.1,69.9L198.2,70.7L199.8,71.5L199.8,74.0L198.4,75.5" fill="none" stroke="#46555a" stroke-width="0.55" stroke-linejoin="round"/>
<path d="M28.9,44.8L30.1,40.3L33.0,38.0L38.1,35.3L42.0,36.2L47.8,37.3L51.1,38.2L56.0,38.5L60.9,37.5L65.0,38.3L70.8,39.3L76.5,40.3L81.5,40.5L86.4,41.2L89.7,38.8L93.0,40.0L95.4,41.6L97.1,38.3L99.6,42.5L97.9,44.1L95.4,47.5L91.3,49.9L89.3,55.8L90.5,59.1L94.6,60.7L99.3,62.1L99.6,66.1L101.6,68.2L102.2,63.2L103.3,57.4L102.8,53.3L103.3,50.3L106.5,50.4L108.6,52.4L109.8,55.4L113.5,53.6L113.9,53.6L116.4,60.2L119.3,63.2L120.9,66.9L117.6,70.4L113.7,72.0L113.9,75.7L116.8,77.8L117.6,77.3L114.8,79.7L112.7,81.5L112.3,79.0L111.5,79.8L109.4,81.2L109.0,84.0L109.4,84.5L107.8,85.6L106.1,86.5L106.1,88.1L105.3,89.3L104.5,92.3L104.9,95.3L103.7,96.4L102.0,98.6L100.4,101.1L100.1,103.9L100.8,107.2L101.2,109.7L100.9,111.9L100.2,111.9L99.7,109.7L99.0,107.2L98.7,105.2L97.7,103.9L96.3,103.2L94.6,103.1L93.4,103.9L93.8,105.4L92.6,105.2L91.3,104.6L89.7,104.6L88.9,105.6L87.1,108.0L86.8,110.9L86.7,113.9L86.6,116.5L87.2,119.5L87.9,121.8L88.9,122.8L89.3,123.5L90.9,122.8L92.2,122.2L92.7,119.7L92.7,118.8L94.6,118.0L95.4,118.0L95.0,120.5L94.6,123.0L94.4,127.1L95.0,127.5L97.1,127.3L98.5,128.8L98.3,132.9L98.2,135.4L99.1,137.9L100.4,138.9L101.6,137.9L102.8,138.8L103.3,139.4L102.9,141.7L102.6,140.1L101.2,141.4L100.8,140.4L99.6,140.1L98.3,139.6L96.5,137.1L96.5,135.1L95.0,132.1L93.8,131.3L91.7,130.5L90.5,127.8L89.3,126.8L87.6,127.6L86.4,126.8L84.8,125.5L83.5,124.2L81.5,122.2L80.2,119.7L80.5,117.5L79.8,115.5L78.6,113.0L77.0,110.5L76.1,107.6L74.7,105.6L74.1,101.7L72.6,100.9L73.1,103.9L74.5,108.0L75.3,110.5L76.3,113.5L77.0,115.4L76.4,114.7L74.9,112.5L74.7,109.7L73.1,107.6L72.8,106.4L71.6,103.1L70.7,99.8L69.6,97.3L67.8,96.3L66.8,93.1L66.3,91.0L65.2,88.1L64.8,86.6L64.9,84.0L65.0,77.3L64.5,73.4L65.9,73.5L65.7,71.5L64.2,70.7L62.2,69.0L61.7,66.5L60.1,63.2L58.9,61.6L57.2,58.2L54.8,56.6L52.3,54.4L49.4,54.1L46.5,52.9L44.1,54.4L42.2,55.4L42.6,52.8L40.8,55.3L40.0,58.2L37.9,59.9L35.4,61.6L33.0,62.7L33.8,61.1L36.3,58.2L37.5,56.3L34.0,56.3L33.8,54.1L31.7,53.3L30.9,51.6L30.5,49.9L31.7,49.0L34.6,48.3L34.7,46.5L32.6,46.5L30.1,46.5ZM107.0,23.4L111.9,20.1L116.0,17.9L121.8,17.1L130.0,16.3L138.2,15.1L146.4,15.4L150.5,17.6L157.1,18.4L153.0,20.9L151.3,24.2L151.8,26.7L150.5,29.2L149.3,32.5L148.9,35.8L147.2,37.5L144.8,40.0L140.7,40.8L138.2,44.1L134.9,45.0L133.3,48.3L132.0,52.4L130.8,54.1L129.1,52.9L127.1,51.6L125.9,49.1L124.6,46.6L123.4,44.1L123.0,40.8L125.0,38.3L122.6,36.7L124.2,35.0L121.8,33.3L120.1,30.0L117.6,27.5L112.7,27.5L108.6,25.0ZM101.2,31.4L104.5,33.0L108.6,35.8L111.5,37.8L112.3,40.3L116.0,42.8L114.8,46.1L113.5,49.3L112.3,50.9L109.4,49.5L107.8,48.3L104.5,47.0L103.0,46.6L106.5,43.3L106.1,40.8L103.7,38.3L100.4,37.5L96.3,37.0L93.4,35.0L95.4,32.2L98.7,31.4ZM69.1,35.0L70.4,32.5L73.3,32.0L79.0,32.0L80.6,33.3L83.1,36.7L81.5,39.5L78.2,39.5L74.1,40.0L70.4,38.3L69.1,36.7ZM63.8,34.5L64.6,30.4L68.3,30.2L70.8,32.0L68.7,35.0L65.9,35.7ZM93.0,26.7L93.4,23.4L90.5,21.7L92.2,19.2L97.1,17.6L103.7,16.1L113.5,15.9L116.4,17.1L113.5,18.7L109.4,20.9L107.4,22.6L104.5,23.9L105.3,25.0L102.0,27.2L98.7,26.9L94.6,27.2ZM91.3,28.4L93.8,26.7L97.9,26.7L100.8,27.2L101.6,29.2L99.6,30.0L94.6,30.0L90.9,29.7ZM88.9,30.9L92.2,30.7L92.6,32.5L90.5,34.2L88.9,33.3ZM82.7,31.7L84.8,31.0L87.2,31.5L87.6,33.5L86.0,35.3L83.5,34.2ZM70.8,27.2L74.9,26.4L79.8,27.5L79.8,29.2L76.5,29.4L71.6,29.5ZM81.5,26.2L85.6,26.5L86.8,27.9L84.8,28.9L81.9,28.0ZM65.9,27.0L70.0,25.4L71.6,26.5L69.1,27.9ZM88.0,23.4L89.7,20.2L93.8,20.1L95.4,21.7L92.2,23.9ZM95.4,47.5L96.3,44.8L98.3,45.0L100.4,47.5L98.7,49.1L96.3,48.3ZM85.2,39.2L88.0,38.0L88.9,39.5L87.2,40.3ZM97.1,117.3L97.9,116.0L99.6,115.4L101.2,115.4L102.8,116.7L104.5,118.8L106.0,120.2L105.3,120.7L103.3,120.7L103.3,119.3L102.0,117.8L100.0,116.8L97.9,117.3ZM105.8,120.8L107.4,120.7L109.4,120.8L110.8,122.8L110.3,123.5L109.0,123.5L108.2,124.3L107.0,123.8L105.8,123.3L107.1,122.8ZM102.6,123.2L104.2,123.7L103.7,124.0L102.8,123.5ZM111.7,123.0L113.0,123.2L113.0,123.8L111.7,123.8ZM118.1,74.7L120.9,74.7L121.3,75.7L123.6,76.3L123.6,74.0L123.0,71.9L121.3,70.9L121.3,68.0L120.1,68.4L118.9,72.4ZM61.4,69.4L63.8,70.0L65.5,73.4L64.5,73.0L62.6,70.7ZM57.6,64.1L58.7,64.2L58.9,67.0L58.0,66.2ZM40.0,57.4L41.6,57.4L40.8,59.4ZM38.7,120.2L39.5,120.8L38.9,122.3L38.6,121.2ZM36.8,117.8L37.4,118.3L37.0,118.3ZM102.7,109.2L103.7,109.5L103.3,110.4L102.4,109.7ZM102.8,111.9L103.3,112.2L103.1,113.9L102.7,113.4Z" fill="#0c2942" stroke="#0c2942" stroke-width="0.5" stroke-linejoin="round"/>
</svg></div>
<div id="frame" class="abs"></div>
<div id="blk" class="abs">Largest Market:<br>North America<br>Fastest Growing Segment:<br>Large Enterprises</div>

<div class="abs" style="left:0;top:460.6px;width:574px;height:1.6px;background:#eef2f4"></div>
<div class="xl" style="left:12.30px">2020</div><div class="abs" style="left:37.60px;top:461px;width:1px;height:1.5px;background:#ccd3d8"></div><div class="xl" style="left:62.15px">2021</div><div class="abs" style="left:87.45px;top:461px;width:1px;height:1.5px;background:#ccd3d8"></div><div class="xl" style="left:112.00px">2022</div><div class="abs" style="left:137.30px;top:461px;width:1px;height:1.5px;background:#ccd3d8"></div><div class="xl" style="left:161.85px">2023</div><div class="abs" style="left:187.15px;top:461px;width:1px;height:1.5px;background:#ccd3d8"></div><div class="xl" style="left:211.70px">2024</div><div class="abs" style="left:237.00px;top:461px;width:1px;height:1.5px;background:#ccd3d8"></div><div class="xl" style="left:261.55px">2025E</div><div class="abs" style="left:286.85px;top:461px;width:1px;height:1.5px;background:#ccd3d8"></div><div class="xl" style="left:311.40px">2026F</div><div class="abs" style="left:336.70px;top:461px;width:1px;height:1.5px;background:#ccd3d8"></div><div class="xl" style="left:361.25px">2027F</div><div class="abs" style="left:386.55px;top:461px;width:1px;height:1.5px;background:#ccd3d8"></div><div class="xl" style="left:411.10px">2028F</div><div class="abs" style="left:436.40px;top:461px;width:1px;height:1.5px;background:#ccd3d8"></div><div class="xl" style="left:460.95px">2029F</div><div class="abs" style="left:486.25px;top:461px;width:1px;height:1.5px;background:#ccd3d8"></div><div class="xl" style="left:510.80px">2030F</div><div class="abs" style="left:536.10px;top:461px;width:1px;height:1.5px;background:#ccd3d8"></div>
<div class="sq" style="left:20.8px;background:#b1d2df"></div><div class="lg" style="left:50.8px">Asia Pacific</div><div class="sq" style="left:176px;background:#7ec3e0"></div><div class="lg" style="left:205.4px">North America</div><div class="sq" style="left:357.5px;background:#2e86c1"></div><div class="lg" style="left:388.1px">Europe</div><div class="sq" style="left:476px;background:#1c5fa8"></div><div class="lg" style="left:505.0px">South America</div><div class="sq" style="left:658.8px;background:#0a3161"></div><div class="lg" style="left:688.7px">Middle East &amp; Africa</div>

<div id="foot" class="abs">
<span class="abs" style="left:55px;top:2px">Contact: +13322586602</span>
<span class="abs" style="left:628px;top:2px">Email: sales@techsciresearch.com</span>
</div>
</body></html>
